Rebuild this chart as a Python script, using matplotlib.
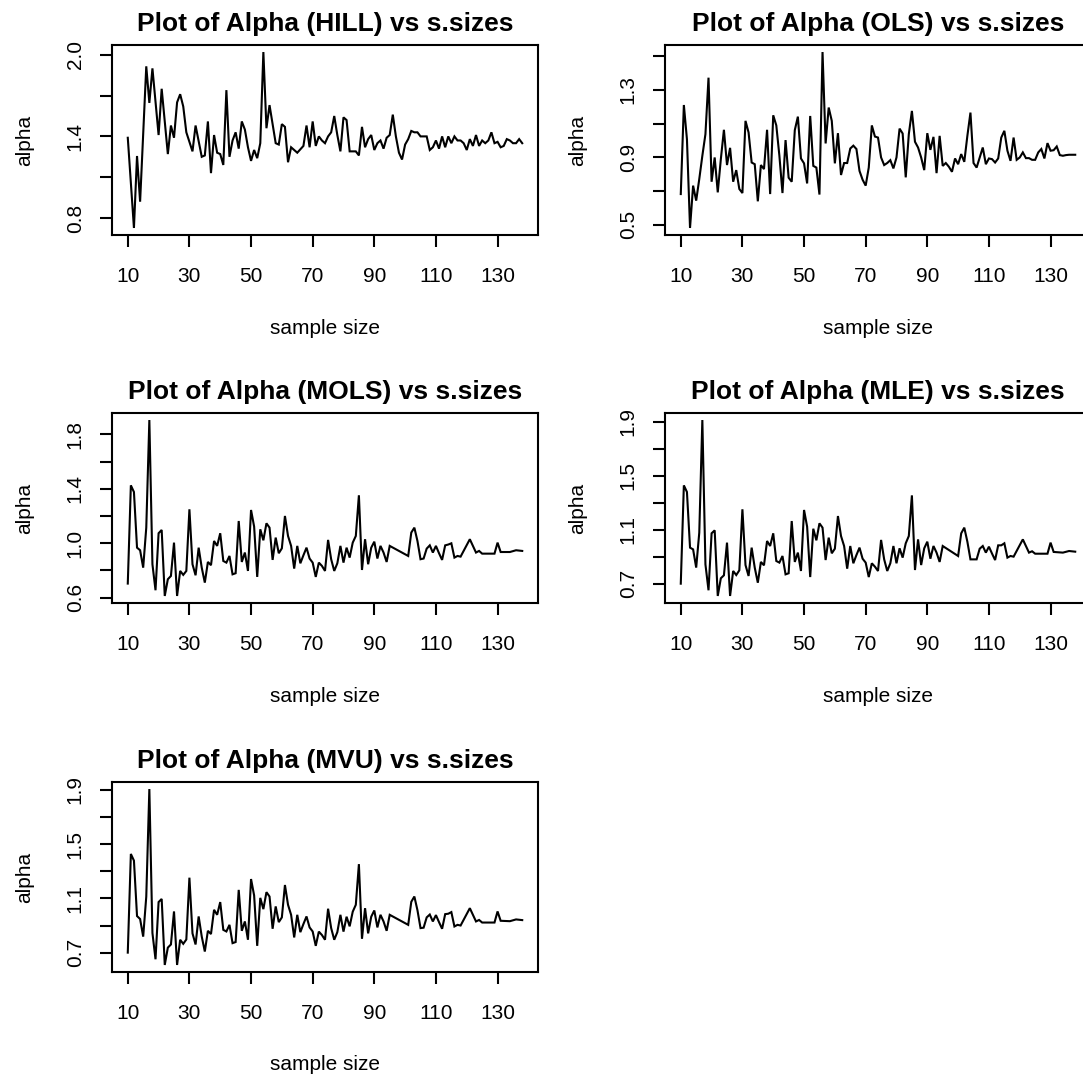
import matplotlib
matplotlib.use("Agg")
import matplotlib.pyplot as plt

plt.rcParams['font.family'] = ['Liberation Sans', 'DejaVu Sans']

# ---------------- data ----------------
xticks = [10, 30, 50, 70, 90, 110, 130]

hill_x = [10, 12, 13, 14, 16, 17, 18, 20, 21, 23, 24, 25, 26, 27, 28, 29, 31, 32, 34, 35,
          36, 37, 38, 39, 40, 41, 42, 43, 44, 45, 46, 47, 48, 49, 50, 51, 52, 53, 54, 55,
          56, 58, 59, 60, 61, 62, 63, 64, 65, 67, 68, 69, 70,
          71, 72, 73, 74, 75, 76, 77, 78, 79, 80, 81, 82, 83, 84, 85, 86, 87, 88, 89, 90,
          91, 92, 93, 94, 95, 96, 97, 98, 99, 100, 101, 102, 103, 104, 105, 106, 107, 108,
          109, 110, 111, 112, 113, 114, 115, 116, 117, 118, 119, 120, 121, 122, 123, 124,
          125, 126, 127, 128, 129, 130, 131, 132, 133, 134, 135, 136, 137, 138]
hill_y = [1.39, 0.727, 1.256, 0.92, 1.915, 1.646, 1.90, 1.41, 1.75, 1.27, 1.48, 1.39, 1.65,
          1.71, 1.62, 1.43, 1.29, 1.48, 1.25, 1.26, 1.51, 1.13, 1.41, 1.28, 1.27, 1.19, 1.74,
          1.25, 1.37, 1.43, 1.31, 1.51, 1.45, 1.32, 1.22, 1.30, 1.24, 1.35, 2.02, 1.46, 1.63,
          1.35, 1.34, 1.49, 1.47, 1.21, 1.32, 1.30, 1.28, 1.33, 1.48, 1.32, 1.51,
          1.33, 1.40, 1.37, 1.35, 1.40, 1.43, 1.55, 1.41, 1.29, 1.54,
          1.52, 1.29, 1.29, 1.29, 1.26, 1.47, 1.32, 1.38, 1.41, 1.30,
          1.35, 1.37, 1.31, 1.39, 1.41, 1.56, 1.40, 1.28, 1.23, 1.34,
          1.38, 1.44, 1.43, 1.43, 1.40, 1.40, 1.40, 1.30, 1.32, 1.37,
          1.31, 1.40, 1.32, 1.40, 1.35, 1.40, 1.37, 1.37, 1.35, 1.30,
          1.38, 1.33, 1.41, 1.33, 1.37, 1.35, 1.37, 1.43, 1.35, 1.36,
          1.32, 1.33, 1.38, 1.37, 1.35, 1.35, 1.38, 1.35]

ols_x = list(range(10, 139))
ols_y = [0.683, 1.211, 1.008, 0.482, 0.733, 0.644, 0.772, 0.91, 1.038, 1.373,
         0.756, 0.90, 0.693, 0.89, 1.064, 0.855, 0.957, 0.756, 0.825, 0.713,
         0.689, 1.117, 1.048, 0.87, 0.86, 0.64, 0.855, 0.831, 1.064, 0.683,
         1.15, 1.09, 0.91, 0.689, 1.003, 0.78, 0.756, 1.062, 1.142, 0.894,
         0.865, 0.746, 1.146, 0.85, 0.84, 0.68, 1.525, 0.983, 1.196, 1.117,
         0.865, 1.044, 0.796, 0.867, 0.867, 0.953, 0.97, 0.95, 0.82, 0.768,
         0.733, 0.84, 1.09, 1.024, 1.018, 0.90, 0.855, 0.867, 0.884, 0.835,
         0.90, 1.071, 1.042, 0.782, 1.038, 1.176, 0.993, 0.959, 0.90, 0.825,
         1.044, 0.945, 1.022, 0.807, 1.028, 0.85, 0.867, 0.845, 0.815, 0.894,
         0.86, 0.92, 0.874, 1.028, 1.166, 0.867, 0.84, 0.90, 0.959, 0.86,
         0.894, 0.89, 0.87, 0.894, 1.018, 1.058, 0.94, 0.88, 1.018, 0.886,
         0.90, 0.93, 0.896, 0.896, 0.886, 0.886, 0.93, 0.95, 0.894, 0.985,
         0.94, 0.943, 0.965, 0.914, 0.91, 0.914, 0.916, 0.916, 0.916]

mols_x = list(range(10, 96)) + [101, 102, 103, 104, 105, 106, 107, 108, 109, 110, 111, 112,
                                113, 114, 115, 116, 117, 118, 121, 123, 124, 125, 129, 130,
                                131, 134, 136, 138]
mols_y = [0.703, 1.425, 1.376, 0.967, 0.948, 0.82, 1.114, 1.905, 0.845, 0.654,
          1.073, 1.097, 0.612, 0.735, 0.759, 1.004, 0.612, 0.796, 0.767, 0.796,
          1.249, 0.845, 0.764, 0.967, 0.82, 0.71, 0.862, 0.838, 1.016, 0.98,
          1.073, 0.869, 0.857, 0.906, 0.771, 0.779, 1.163, 0.862, 0.931, 0.796,
          1.244, 1.122, 0.752, 1.102, 1.021, 1.146, 1.114, 0.877, 1.041, 0.926,
          0.962, 1.2, 1.053, 0.98, 0.813, 0.98, 0.852, 0.911, 0.967, 0.887,
          0.857, 0.752, 0.857, 0.833, 0.796, 1.024, 0.882, 0.796, 0.852, 0.98,
          0.857, 0.967, 0.894, 1.004, 1.053, 1.352, 0.803, 1.029, 0.845, 0.967,
          1.011, 0.887, 0.98, 0.931, 0.862, 0.98,
          0.906, 1.078, 1.114, 1.016, 0.882, 0.887, 0.96, 0.984, 0.931, 0.98, 0.926, 0.877,
          0.984, 0.99, 0.999, 0.894, 0.906, 0.901, 1.029, 0.931, 0.943, 0.923, 0.923, 1.004,
          0.935, 0.935, 0.948, 0.943]

mle_x = list(range(10, 96)) + [100, 101, 102, 103, 104, 106, 107, 108, 109, 110, 111, 112,
                               113, 114, 115, 116, 117, 118, 121, 123, 124, 125, 129, 130,
                               131, 134, 136, 138]
mle_y = [0.70, 1.428, 1.379, 0.967, 0.954, 0.819, 1.078, 1.912, 0.843, 0.651,
         1.073, 1.095, 0.609, 0.74, 0.762, 1.004, 0.609, 0.794, 0.764, 0.799,
         1.251, 0.838, 0.757, 0.967, 0.819, 0.707, 0.861, 0.836, 1.016, 0.979,
         1.073, 0.868, 0.856, 0.905, 0.769, 0.777, 1.164, 0.861, 0.930, 0.794,
         1.246, 1.122, 0.749, 1.107, 1.021, 1.147, 1.115, 0.875, 1.041, 0.925,
         0.959, 1.201, 1.053, 0.979, 0.811, 0.979, 0.851, 0.912, 0.967, 0.885,
         0.856, 0.749, 0.851, 0.826, 0.794, 1.024, 0.88, 0.794, 0.851, 0.979,
         0.851, 0.962, 0.893, 0.999, 1.053, 1.354, 0.801, 1.028, 0.838, 0.962,
         1.011, 0.885, 0.979, 0.930, 0.861, 0.979,
         0.905, 1.073, 1.115, 1.011, 0.88, 0.88, 0.959, 0.979, 0.93, 0.974, 0.923, 0.875,
         0.984, 0.984, 0.999, 0.893, 0.905, 0.9, 1.028, 0.93, 0.94, 0.922, 0.922, 1.004,
         0.935, 0.93, 0.942, 0.937]

mvu_x = list(range(10, 96)) + [101, 102, 103, 104, 105, 106, 107, 108, 109, 110, 111, 112,
                               113, 114, 115, 116, 117, 118, 121, 123, 124, 125, 129, 130,
                               131, 134, 136, 138]
mvu_y = [0.70, 1.428, 1.379, 0.970, 0.948, 0.818, 1.113, 1.907, 0.845, 0.651,
         1.073, 1.096, 0.609, 0.737, 0.760, 1.004, 0.609, 0.795, 0.765, 0.797,
         1.253, 0.842, 0.760, 0.967, 0.819, 0.708, 0.861, 0.837, 1.016, 0.979,
         1.073, 0.868, 0.856, 0.905, 0.770, 0.778, 1.163, 0.861, 0.930, 0.795,
         1.243, 1.122, 0.750, 1.104, 1.021, 1.146, 1.114, 0.876, 1.041, 0.925,
         0.960, 1.199, 1.053, 0.979, 0.812, 0.979, 0.851, 0.911, 0.967, 0.886,
         0.856, 0.750, 0.855, 0.830, 0.795, 1.024, 0.881, 0.795, 0.851, 0.979,
         0.855, 0.965, 0.894, 1.002, 1.053, 1.353, 0.802, 1.028, 0.842, 0.965,
         1.011, 0.886, 0.979, 0.930, 0.861, 0.979,
         0.905, 1.075, 1.114, 1.013, 0.881, 0.884, 0.960, 0.981, 0.930, 0.977, 0.925, 0.876,
         0.984, 0.987, 0.999, 0.893, 0.905, 0.900, 1.028, 0.930, 0.941, 0.922, 0.922, 1.004,
         0.935, 0.932, 0.945, 0.940]

titles = ["Plot of Alpha (HILL) vs s.sizes", "Plot of Alpha (OLS) vs s.sizes",
          "Plot of Alpha (MOLS) vs s.sizes", "Plot of Alpha (MLE) vs s.sizes",
          "Plot of Alpha (MVU) vs s.sizes"]
yticks_all = [[0.8, 1.1, 1.4, 1.7, 2.0],
              [0.5, 0.7, 0.9, 1.1, 1.3, 1.5],
              [0.6, 0.8, 1.0, 1.2, 1.4, 1.6, 1.8],
              [0.7, 0.9, 1.1, 1.3, 1.5, 1.7, 1.9],
              [0.7, 0.9, 1.1, 1.3, 1.5, 1.7, 1.9]]
ylabels_all = [["0.8", "", "1.4", "", "2.0"],
               ["0.5", "", "0.9", "", "1.3", ""],
               ["0.6", "", "1.0", "", "1.4", "", "1.8"],
               ["0.7", "", "1.1", "", "1.5", "", "1.9"],
               ["0.7", "", "1.1", "", "1.5", "", "1.9"]]
series = [(hill_x, hill_y), (ols_x, ols_y), (mols_x, mols_y), (mle_x, mle_y), (mvu_x, mvu_y)]

# ---------------- layout ----------------
W, H = 1083, 1074
fig = plt.figure(figsize=(W / 100, H / 100), dpi=100)

boxes = [(112, 45), (665, 45), (112, 413), (665, 413), (112, 782)]
bw, bh = 426, 190
lab_fs = 15
px2pt = 0.72

for i, ((bx, by), title, (xs, ys), yt, yl) in enumerate(zip(boxes, titles, series, yticks_all, ylabels_all)):
    ax = fig.add_axes([bx / W, 1 - (by + bh) / H, bw / W, bh / H])
    ax.plot(xs, ys, color='black', lw=1.5, solid_joinstyle='miter')
    ax.margins(x=0.04, y=0.04)
    ax.set_xticks(xticks)
    ax.set_xticklabels([str(t) for t in xticks])
    ax.set_yticks(yt)
    ax.set_yticklabels(yl, rotation=90, va='center')
    ax.tick_params(axis='both', direction='out', length=12 * px2pt, width=1.5,
                   labelsize=lab_fs, color='black')
    ax.tick_params(axis='x', pad=14.5)
    ax.tick_params(axis='y', pad=11)
    for s in ax.spines.values():
        s.set_linewidth(1.5)
    ax.set_title(title, fontsize=19, fontweight='bold', pad=10)
    cx = bx + bw / 2
    fig.text(cx / W, 1 - (by + 283) / H, "sample size", ha='center', va='center', fontsize=lab_fs)
    fig.text((bx - 87) / W, 1 - (by + bh / 2) / H, "alpha", ha='center', va='center',
             rotation=90, fontsize=lab_fs)

fig.savefig("out.png", dpi=100)
